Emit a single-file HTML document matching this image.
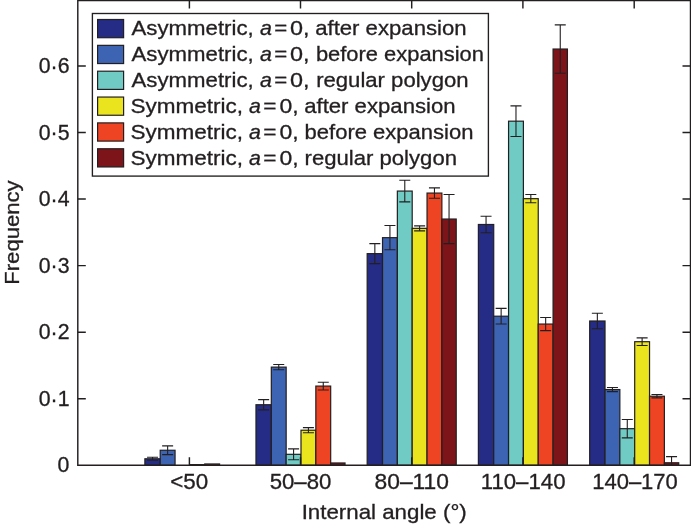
<!DOCTYPE html>
<html><head><meta charset="utf-8"><title>chart</title>
<style>
html,body{margin:0;padding:0;background:#fff;}
body{width:691px;height:524px;overflow:hidden;}
svg{display:block;will-change:transform;filter:blur(0.35px);}
text{font-family:"Liberation Sans",sans-serif;font-size:21.1px;fill:#231F20;stroke:#231F20;stroke-width:0.32;}
.i{font-style:italic;}
</style></head><body>
<svg width="691" height="524" viewBox="0 0 691 524">
<rect width="691" height="524" fill="#fff"/>
<g stroke="#231F20" stroke-width="1.2">
<rect x="144.88" y="458.78" width="15.34" height="6.52" fill="#252C86"/>
<rect x="160.22" y="450.26" width="14.84" height="15.04" fill="#3D63B3"/>
<rect x="189.90" y="464.63" width="14.84" height="0.67" fill="#E9E41D"/>
<rect x="204.74" y="463.97" width="14.84" height="1.33" fill="#EE4423"/>
<rect x="255.98" y="404.73" width="15.34" height="60.57" fill="#252C86"/>
<rect x="271.32" y="367.12" width="14.84" height="98.18" fill="#3D63B3"/>
<rect x="286.16" y="454.32" width="14.84" height="10.98" fill="#70CBC5"/>
<rect x="301.00" y="430.22" width="14.84" height="35.08" fill="#E9E41D"/>
<rect x="315.84" y="386.09" width="14.84" height="79.21" fill="#EE4423"/>
<rect x="330.68" y="462.97" width="14.34" height="2.33" fill="#7C141A"/>
<rect x="367.18" y="253.64" width="15.34" height="211.66" fill="#252C86"/>
<rect x="382.52" y="237.66" width="14.84" height="227.64" fill="#3D63B3"/>
<rect x="397.36" y="191.07" width="14.84" height="274.23" fill="#70CBC5"/>
<rect x="412.20" y="228.35" width="14.84" height="236.95" fill="#E9E41D"/>
<rect x="427.04" y="193.07" width="14.84" height="272.23" fill="#EE4423"/>
<rect x="441.88" y="219.03" width="14.34" height="246.27" fill="#7C141A"/>
<rect x="478.38" y="224.49" width="15.34" height="240.81" fill="#252C86"/>
<rect x="493.72" y="316.21" width="14.84" height="149.09" fill="#3D63B3"/>
<rect x="508.56" y="121.18" width="14.84" height="344.12" fill="#70CBC5"/>
<rect x="523.40" y="198.66" width="14.84" height="266.64" fill="#E9E41D"/>
<rect x="538.24" y="324.06" width="14.84" height="141.24" fill="#EE4423"/>
<rect x="553.08" y="49.03" width="14.34" height="416.27" fill="#7C141A"/>
<rect x="589.68" y="321.00" width="15.34" height="144.30" fill="#252C86"/>
<rect x="605.02" y="389.55" width="14.84" height="75.75" fill="#3D63B3"/>
<rect x="619.86" y="428.69" width="14.84" height="36.61" fill="#70CBC5"/>
<rect x="634.70" y="341.70" width="14.84" height="123.60" fill="#E9E41D"/>
<rect x="649.54" y="396.21" width="14.84" height="69.09" fill="#EE4423"/>
<rect x="664.38" y="462.77" width="14.34" height="2.53" fill="#7C141A"/>
</g>
<g stroke="#231F20" stroke-width="1.1" fill="none">
<path d="M152.55 457.28V460.28M147.05 457.28H158.05M147.05 460.28H158.05"/>
<path d="M167.64 445.86V454.66M162.14 445.86H173.14M162.14 454.66H173.14"/>
<path d="M263.65 399.63V409.83M258.15 399.63H269.15M258.15 409.83H269.15"/>
<path d="M278.74 364.52V369.72M273.24 364.52H284.24M273.24 369.72H284.24"/>
<path d="M293.58 448.92V459.72M288.08 448.92H299.08M288.08 459.72H299.08"/>
<path d="M308.42 427.62V432.82M302.92 427.62H313.92M302.92 432.82H313.92"/>
<path d="M323.26 382.19V389.99M317.76 382.19H328.76M317.76 389.99H328.76"/>
<path d="M374.85 243.64V263.64M369.35 243.64H380.35M369.35 263.64H380.35"/>
<path d="M389.94 225.56V249.76M384.44 225.56H395.44M384.44 249.76H395.44"/>
<path d="M404.78 180.27V201.87M399.28 180.27H410.28M399.28 201.87H410.28"/>
<path d="M419.62 225.85V230.85M414.12 225.85H425.12M414.12 230.85H425.12"/>
<path d="M434.46 187.87V198.27M428.96 187.87H439.96M428.96 198.27H439.96"/>
<path d="M449.05 194.43V243.63M443.55 194.43H454.55M443.55 243.63H454.55"/>
<path d="M486.05 216.19V232.79M480.55 216.19H491.55M480.55 232.79H491.55"/>
<path d="M501.14 308.41V324.01M495.64 308.41H506.64M495.64 324.01H506.64"/>
<path d="M515.98 105.88V136.48M510.48 105.88H521.48M510.48 136.48H521.48"/>
<path d="M530.82 194.56V202.76M525.32 194.56H536.32M525.32 202.76H536.32"/>
<path d="M545.66 317.46V330.66M540.16 317.46H551.16M540.16 330.66H551.16"/>
<path d="M560.25 24.83V73.23M554.75 24.83H565.75M554.75 73.23H565.75"/>
<path d="M597.35 313.20V328.80M591.85 313.20H602.85M591.85 328.80H602.85"/>
<path d="M612.44 387.45V391.65M606.94 387.45H617.94M606.94 391.65H617.94"/>
<path d="M627.28 419.49V437.89M621.78 419.49H632.78M621.78 437.89H632.78"/>
<path d="M642.12 337.90V345.50M636.62 337.90H647.62M636.62 345.50H647.62"/>
<path d="M656.96 394.51V397.91M651.46 394.51H662.46M651.46 397.91H662.46"/>
<path d="M671.55 456.67V465.30M666.05 456.67H677.05"/>
</g>
<g stroke="#231F20" stroke-width="1.45" fill="none">
<path d="M77.80 0.60H690.50V465.30H77.80Z"/>
<path d="M189.40 0.60v8.00M189.40 465.30v-8.00"/>
<path d="M300.50 0.60v8.00M300.50 465.30v-8.00"/>
<path d="M411.70 0.60v8.00M411.70 465.30v-8.00"/>
<path d="M522.90 0.60v8.00M522.90 465.30v-8.00"/>
<path d="M634.20 0.60v8.00M634.20 465.30v-8.00"/>
<path d="M77.80 398.74h8.00M690.50 398.74h-8.00"/>
<path d="M77.80 332.18h8.00M690.50 332.18h-8.00"/>
<path d="M77.80 265.62h8.00M690.50 265.62h-8.00"/>
<path d="M77.80 199.06h8.00M690.50 199.06h-8.00"/>
<path d="M77.80 132.50h8.00M690.50 132.50h-8.00"/>
<path d="M77.80 65.94h8.00M690.50 65.94h-8.00"/>
</g>
<rect x="92.40" y="13.50" width="396.00" height="162.60" fill="#fff" stroke="#231F20" stroke-width="1.35"/>
<rect x="97.6" y="19.50" width="26" height="18.2" fill="#252C86" stroke="#231F20" stroke-width="1.2"/>
<text transform="translate(131.56 35.25) scale(1.0525 1)">Asymmetric,</text>
<text transform="translate(260.02 35.25) scale(1.0152 1)" class="i">a</text>
<text transform="translate(274.31 35.25) scale(1.0535 1)">=</text>
<text transform="translate(289.89 35.25) scale(1.1091 1)">0,</text>
<text transform="translate(315.16 35.25) scale(1.0499 1)">after expansion</text>
<rect x="97.6" y="45.35" width="26" height="18.2" fill="#3D63B3" stroke="#231F20" stroke-width="1.2"/>
<text transform="translate(131.56 61.15) scale(1.0525 1)">Asymmetric,</text>
<text transform="translate(260.02 61.15) scale(1.0152 1)" class="i">a</text>
<text transform="translate(274.31 61.15) scale(1.0535 1)">=</text>
<text transform="translate(289.89 61.15) scale(1.1091 1)">0,</text>
<text transform="translate(315.89 61.15) scale(1.0386 1)">before expansion</text>
<rect x="97.6" y="71.20" width="26" height="18.2" fill="#70CBC5" stroke="#231F20" stroke-width="1.2"/>
<text transform="translate(131.56 87.05) scale(1.0525 1)">Asymmetric,</text>
<text transform="translate(260.02 87.05) scale(1.0152 1)" class="i">a</text>
<text transform="translate(274.31 87.05) scale(1.0535 1)">=</text>
<text transform="translate(289.89 87.05) scale(1.1091 1)">0,</text>
<text transform="translate(316.13 87.05) scale(1.0485 1)">regular polygon</text>
<rect x="97.6" y="97.05" width="26" height="18.2" fill="#E9E41D" stroke="#231F20" stroke-width="1.2"/>
<text transform="translate(130.38 112.95) scale(1.0677 1)">Symmetric,</text>
<text transform="translate(249.02 112.95) scale(1.0152 1)" class="i">a</text>
<text transform="translate(263.19 112.95) scale(1.0730 1)">=</text>
<text transform="translate(279.50 112.95) scale(1.0889 1)">0,</text>
<text transform="translate(304.16 112.95) scale(1.0499 1)">after expansion</text>
<rect x="97.6" y="122.90" width="26" height="18.2" fill="#EE4423" stroke="#231F20" stroke-width="1.2"/>
<text transform="translate(130.38 138.85) scale(1.0677 1)">Symmetric,</text>
<text transform="translate(249.02 138.85) scale(1.0152 1)" class="i">a</text>
<text transform="translate(263.19 138.85) scale(1.0730 1)">=</text>
<text transform="translate(279.50 138.85) scale(1.0889 1)">0,</text>
<text transform="translate(304.58 138.85) scale(1.0436 1)">before expansion</text>
<rect x="97.6" y="148.75" width="26" height="18.2" fill="#7C141A" stroke="#231F20" stroke-width="1.2"/>
<text transform="translate(130.38 164.75) scale(1.0677 1)">Symmetric,</text>
<text transform="translate(249.02 164.75) scale(1.0152 1)" class="i">a</text>
<text transform="translate(263.19 164.75) scale(1.0730 1)">=</text>
<text transform="translate(279.50 164.75) scale(1.0889 1)">0,</text>
<text transform="translate(304.53 164.75) scale(1.0485 1)">regular polygon</text>
<text transform="translate(57.59 472.30) scale(0.9765 1)" style="font-size:21.8px">0</text>
<text transform="translate(38.77 405.74) scale(0.9765 1)" style="font-size:21.8px">0<tspan dy="0.8">·</tspan><tspan dy="-0.8">1</tspan></text>
<text transform="translate(38.77 339.18) scale(0.9765 1)" style="font-size:21.8px">0<tspan dy="0.8">·</tspan><tspan dy="-0.8">2</tspan></text>
<text transform="translate(38.77 272.62) scale(0.9765 1)" style="font-size:21.8px">0<tspan dy="0.8">·</tspan><tspan dy="-0.8">3</tspan></text>
<text transform="translate(38.77 206.06) scale(0.9765 1)" style="font-size:21.8px">0<tspan dy="0.8">·</tspan><tspan dy="-0.8">4</tspan></text>
<text transform="translate(38.77 139.50) scale(0.9765 1)" style="font-size:21.8px">0<tspan dy="0.8">·</tspan><tspan dy="-0.8">5</tspan></text>
<text transform="translate(38.77 72.94) scale(0.9765 1)" style="font-size:21.8px">0<tspan dy="0.8">·</tspan><tspan dy="-0.8">6</tspan></text>
<text transform="translate(170.20 489.20) scale(1.0270 1)" style="font-size:21.8px">&lt;50</text>
<text transform="translate(269.71 489.20) scale(1.0170 1)" style="font-size:21.8px">50–80</text>
<text transform="translate(374.51 489.20) scale(1.0473 1)" style="font-size:21.8px">80–110</text>
<text transform="translate(480.71 489.20) scale(1.0187 1)" style="font-size:21.8px">110–140</text>
<text transform="translate(592.22 489.20) scale(1.0090 1)" style="font-size:21.8px">140–170</text>
<text transform="translate(301.64 518.50) scale(1.0571 1)">Internal angle (°)</text>
<text transform="translate(18.6 284.71) rotate(-90) scale(1.0468 1)">Frequency</text>
</svg>
</body></html>
